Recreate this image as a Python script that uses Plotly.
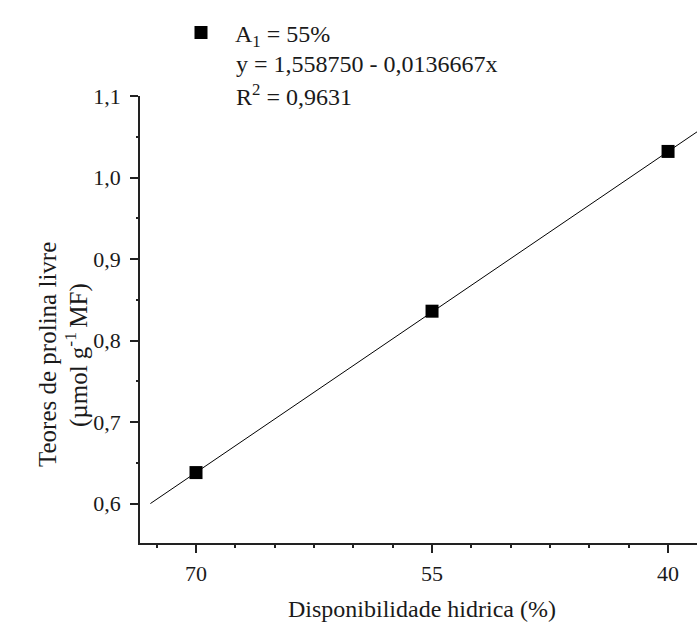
import plotly.graph_objects as go

# Data
water_avail = [70, 55, 40]                 # Disponibilidade hídrica (%)
proline = [0.638, 0.836, 1.032]            # Teores de prolina livre
fit_x = [72.9, 38.16]                      # regression line ends
fit_y = [0.600, 1.056]

series_name = "A<sub>1</sub> = 55%"
equation = "y = 1,558750 - 0,0136667x"
r2_text = "R<sup>2</sup> = 0,9631"
x_title = "Disponibilidade hidrica (%)"
y_title_1 = "Teores de prolina livre"
y_title_2 = "(µmol g<sup>-1 </sup>MF)"

FONT = "Liberation Serif"
TXT = "#1a1a1a"

W, H = 697, 624
L, R, T, B = 140, 0, 96, 81

fig = go.Figure()
fig.add_trace(go.Scatter(
    x=fit_x, y=fit_y, mode="lines",
    line=dict(color="black", width=1), showlegend=False, hoverinfo="skip"))
fig.add_trace(go.Scatter(
    x=water_avail, y=proline, mode="markers", name=series_name,
    marker=dict(symbol="square", size=13, color="black"), showlegend=True))

pw = W - L - R
ph = H - T - B

def px_to_paper(px, py):
    return (px - L) / pw, (H - B - py) / ph

for txt, py in [(equation, 64), (r2_text, 95)]:
    lx, ly = px_to_paper(234, py)
    fig.add_annotation(x=lx, y=ly, xref="paper", yref="paper", text=txt,
                       showarrow=False, xanchor="left", yanchor="middle",
                       font=dict(family=FONT, size=24, color=TXT))

# y-axis title (two lines)
for txt, px in [(y_title_1, 47), (y_title_2, 76)]:
    tx, ty = px_to_paper(px, 355)
    fig.add_annotation(x=tx, y=ty, xref="paper", yref="paper",
                       text=txt, textangle=-90,
                       showarrow=False, xanchor="center", yanchor="middle",
                       font=dict(family=FONT, size=25, color=TXT))

# x-axis title
tx, ty = px_to_paper(422, 609)
fig.add_annotation(x=tx, y=ty, xref="paper", yref="paper", text=x_title,
                   showarrow=False, xanchor="center", yanchor="middle",
                   font=dict(family=FONT, size=24, color=TXT))

lgx, lgy = px_to_paper(167, 33)
fig.update_layout(
    width=W, height=H,
    margin=dict(l=L, r=R, t=T, b=B, pad=0),
    plot_bgcolor="white", paper_bgcolor="white",
    separators=", ",
    font=dict(family=FONT, size=21, color=TXT),
    legend=dict(x=lgx, y=lgy, xanchor="left", yanchor="middle",
                bgcolor="rgba(0,0,0,0)", borderwidth=0, itemwidth=58,
                font=dict(family=FONT, size=24, color=TXT)),
    xaxis=dict(
        range=[73.56, 38.16], showgrid=False, zeroline=False,
        showline=True, linecolor="#222", linewidth=1.5,
        tickmode="linear", tick0=40, dtick=15,
        ticks="outside", ticklen=8, tickwidth=1.5, tickcolor="#222",
        tickfont=dict(family=FONT, size=22, color=TXT),
        ticklabelstandoff=2,
        minor=dict(dtick=2.5, tick0=40, ticks="outside", ticklen=3,
                   tickwidth=1.5, tickcolor="#222", showgrid=False),
    ),
    yaxis=dict(
        range=[0.5516, 1.1], showgrid=False, zeroline=False,
        showline=True, linecolor="#222", linewidth=1.5,
        tickmode="linear", tick0=0.6, dtick=0.1, tickformat=".1f",
        ticks="outside", ticklen=8, tickwidth=1.5, tickcolor="#222",
        tickfont=dict(family=FONT, size=22, color=TXT),
        ticklabelstandoff=5,
        minor=dict(dtick=0.05, tick0=0.6, ticks="outside", ticklen=2,
                   tickwidth=1.5, tickcolor="#222", showgrid=False),
    ),
)

fig.write_html("out.html")
